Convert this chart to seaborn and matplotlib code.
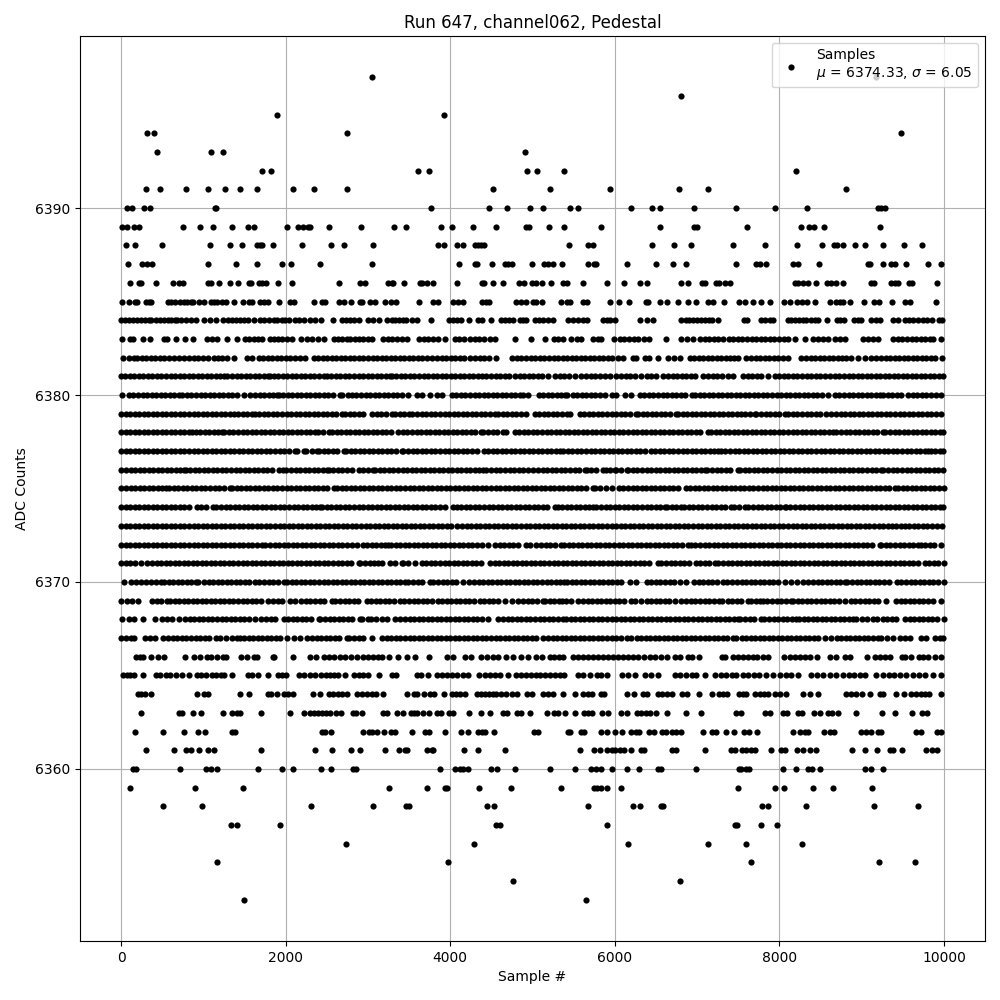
import pandas as pd
import matplotlib
matplotlib.use("Agg")
import matplotlib.pyplot as plt
import seaborn as sns

# Sample numbers, one list per ADC level
s6397 = [3046, 9179]
s6396 = [6810]
s6395 = [1890, 3927]
s6394 = [315, 404, 2739, 9483]
s6393 = [436, 1091, 1236, 4909]
s6392 = [1709, 1818, 3612, 3745, 4933, 5050, 5388, 8207]
s6391 = [303, 473, 788, 1054, 1260, 1442, 1648, 2085, 2339, 2751, 4521, 5210, 5947, 6786, 7138, 8815]
s6390 = [73, 133, 279, 351, 1135, 1150, 3769, 4472, 4690, 4969, 5133, 5457, 5554, 6202, 6457, 6551, 6964, 7474, 7948, 8336, 9200, 9232, 9280]
s6389 = [16, 77, 158, 222, 751, 957, 1115, 1345, 1539, 1612, 2012, 2145, 2206, 2266, 2299, 2521, 2921, 3321, 3466, 3890, 4024, 4278, 4557, 4925, 4953, 5194, 5388, 5838, 6543, 6968, 7000, 7612, 8268, 8365, 8426, 8547, 9228]
s6388 = [61, 170, 497, 1079, 1321, 1467, 1648, 1685, 1717, 1842, 2194, 2545, 2703, 3066, 3854, 3927, 4084, 4157, 4303, 4339, 4375, 4416, 5449, 5668, 5729, 6457, 6721, 6928, 7442, 7831, 8215, 8519, 8669, 8700, 8770, 8924, 9046, 9265, 9520, 9738]
s6387 = [85, 255, 315, 376, 1054, 1394, 1648, 1951, 2060, 2412, 3054, 4109, 4300, 4319, 4513, 4666, 4703, 4747, 4993, 5144, 5190, 5252, 5353, 5680, 5741, 5777, 6154, 6506, 6713, 6859, 7474, 7721, 7762, 7843, 8171, 8231, 8486, 9080, 9100, 9265, 9354, 9403, 9533, 9801, 9967]
s6386 = [109, 218, 246, 424, 630, 703, 751, 1054, 1087, 1188, 1321, 1418, 1551, 1584, 1672, 1713, 1765, 1903, 2073, 2642, 2897, 2969, 3248, 3289, 3309, 3442, 3632, 3656, 3713, 3794, 4084, 4391, 4416, 4521, 4642, 4836, 4893, 4993, 5048, 5110, 5230, 5368, 5413, 5619, 5911, 6117, 6312, 6385, 6810, 6895, 7065, 7094, 7235, 7272, 7337, 7397, 8187, 8232, 8288, 8345, 8449, 8580, 8632, 8693, 8778, 9110, 9150, 9354, 9403, 9443, 9576, 9616, 9920]
s6385 = [12, 97, 166, 190, 303, 339, 368, 570, 602, 655, 715, 764, 804, 845, 877, 950, 1006, 1087, 1127, 1160, 1224, 1273, 1370, 1479, 1551, 1592, 1685, 1733, 1782, 1923, 2048, 2097, 2339, 2440, 2481, 2642, 2703, 2788, 2897, 2925, 3030, 3091, 3212, 3285, 3345, 3624, 3794, 3854, 4036, 4097, 4157, 4387, 4432, 4476, 4804, 4864, 4925, 5005, 5038, 5110, 5340, 5413, 5453, 5615, 5656, 5947, 6049, 6178, 6373, 6405, 6551, 6636, 6770, 6895, 6992, 7138, 7195, 7332, 7507, 7588, 7681, 7774, 7883, 8053, 8134, 8215, 8276, 8341, 8438, 8612, 8693, 8734, 8775, 8863, 9033, 9155, 9216, 9374, 9524, 9585, 9908]
s6384 = [0, 48, 95, 150, 195, 245, 290, 340, 368, 420, 470, 520, 565, 610, 655, 683, 730, 790, 844, 905, 1006, 1075, 1147, 1240, 1295, 1349, 1402, 1445, 1491, 1543, 1620, 1685, 1733, 1794, 1854, 1900, 1950, 1995, 2036, 2109, 2157, 2218, 2291, 2351, 2428, 2569, 2683, 2731, 2784, 2835, 2885, 3006, 3066, 3139, 3236, 3289, 3329, 3375, 3420, 3462, 3531, 3592, 3769, 3987, 4030, 4076, 4133, 4230, 4339, 4387, 4497, 4622, 4670, 4715, 4763, 4852, 4890, 4925, 5028, 5080, 5130, 5190, 5251, 5433, 5494, 5555, 5610, 5656, 5858, 5900, 5939, 6008, 6312, 6397, 6466, 6810, 6860, 6905, 6950, 7000, 7050, 7095, 7140, 7175, 7255, 7571, 7612, 7782, 7830, 7880, 7924, 8106, 8147, 8187, 8240, 8285, 8329, 8390, 8430, 8470, 8584, 8705, 8734, 8782, 8908, 8950, 8997, 9119, 9170, 9220, 9379, 9443, 9524, 9575, 9625, 9686, 9746, 9799, 9856, 9937, 9977]
s6383 = [16, 109, 150, 271, 347, 521, 562, 671, 776, 877, 1046, 1107, 1168, 1281, 1410, 1511, 1560, 1610, 1665, 1713, 1806, 1855, 1910, 1960, 2020, 2077, 2186, 2258, 2319, 2388, 2460, 2582, 2635, 2690, 2743, 2784, 2840, 2890, 2945, 3000, 3046, 3188, 3240, 3295, 3350, 3410, 3470, 3624, 3680, 3735, 3790, 3850, 3935, 4056, 4110, 4170, 4238, 4299, 4355, 4410, 4480, 4541, 4791, 4985, 5155, 5256, 5315, 5376, 5473, 5535, 5595, 5737, 5790, 5838, 5984, 6061, 6115, 6175, 6230, 6284, 6356, 6413, 6628, 6810, 6880, 6952, 7033, 7090, 7150, 7205, 7260, 7316, 7385, 7440, 7495, 7550, 7610, 7665, 7720, 7775, 7830, 7885, 7940, 8000, 8055, 8110, 8187, 8308, 8410, 8470, 8530, 8592, 8681, 8740, 8795, 9017, 9080, 9140, 9200, 9382, 9440, 9495, 9550, 9610, 9665, 9720, 9775, 9825, 9868, 9969]
s6382 = [28, 90, 158, 198, 250, 305, 360, 415, 470, 525, 580, 640, 700, 764, 824, 880, 935, 990, 1055, 1127, 1176, 1230, 1281, 1370, 1531, 1592, 1673, 1725, 1780, 1835, 1890, 1945, 2000, 2055, 2110, 2175, 2238, 2339, 2395, 2450, 2505, 2560, 2615, 2670, 2725, 2780, 2835, 2890, 2945, 3000, 3055, 3110, 3165, 3220, 3275, 3330, 3385, 3440, 3495, 3550, 3605, 3660, 3720, 3775, 3834, 3895, 3950, 4005, 4060, 4115, 4170, 4235, 4299, 4359, 4415, 4472, 4553, 4755, 4810, 4865, 4920, 4985, 5030, 5089, 5145, 5200, 5255, 5310, 5365, 5420, 5475, 5530, 5585, 5640, 5695, 5750, 5805, 5860, 5915, 5970, 6035, 6101, 6223, 6263, 6365, 6413, 6527, 6648, 6720, 6790, 6911, 6965, 7020, 7075, 7130, 7185, 7240, 7295, 7350, 7405, 7450, 7499, 7600, 7655, 7710, 7765, 7820, 7875, 7930, 7985, 8040, 8106, 8268, 8325, 8380, 8435, 8490, 8545, 8600, 8655, 8710, 8765, 8815, 8875, 8957, 9040, 9119, 9179, 9235, 9290, 9345, 9400, 9455, 9510, 9565, 9620, 9675, 9730, 9785, 9840, 9888, 9977]
s6381 = [0, 50, 105, 160, 215, 270, 325, 380, 435, 490, 545, 600, 655, 710, 765, 820, 875, 930, 985, 1040, 1095, 1150, 1205, 1250, 1290, 1349, 1405, 1460, 1515, 1570, 1625, 1680, 1735, 1780, 1814, 1854, 1910, 1965, 2020, 2075, 2130, 2185, 2240, 2295, 2350, 2405, 2460, 2501, 2555, 2610, 2665, 2720, 2775, 2830, 2885, 2940, 2995, 3050, 3105, 3160, 3215, 3268, 3289, 3345, 3400, 3455, 3510, 3565, 3620, 3675, 3730, 3785, 3840, 3895, 3950, 4005, 4060, 4115, 4170, 4225, 4280, 4335, 4380, 4440, 4495, 4550, 4605, 4660, 4715, 4783, 4844, 4900, 4955, 5010, 5065, 5120, 5190, 5271, 5330, 5385, 5440, 5514, 5595, 5650, 5705, 5757, 5818, 5875, 5939, 6020, 6075, 6130, 6185, 6240, 6324, 6385, 6440, 6495, 6587, 6648, 6705, 6760, 6815, 6870, 6925, 6980, 7073, 7134, 7190, 7245, 7300, 7377, 7438, 7559, 7615, 7670, 7725, 7780, 7863, 7944, 8000, 8055, 8110, 8165, 8220, 8275, 8330, 8385, 8440, 8495, 8550, 8612, 8673, 8730, 8785, 8840, 8895, 8950, 9005, 9060, 9115, 9170, 9225, 9280, 9335, 9390, 9445, 9500, 9555, 9610, 9665, 9720, 9775, 9830, 9885, 9940, 9990]
s6380 = [8, 97, 150, 205, 260, 315, 370, 425, 480, 535, 590, 645, 703, 743, 800, 855, 910, 965, 1020, 1075, 1130, 1185, 1240, 1295, 1350, 1405, 1491, 1572, 1630, 1685, 1740, 1795, 1850, 1895, 1915, 1970, 2025, 2080, 2135, 2190, 2245, 2300, 2355, 2410, 2465, 2520, 2575, 2662, 2683, 2763, 2804, 2860, 2915, 2970, 3025, 3080, 3135, 3190, 3245, 3300, 3355, 3410, 3491, 3600, 3660, 3753, 3834, 3895, 4016, 4075, 4130, 4185, 4240, 4295, 4350, 4405, 4460, 4515, 4570, 4625, 4680, 4735, 4790, 4845, 4890, 4945, 5078, 5130, 5185, 5240, 5295, 5350, 5392, 5413, 5494, 5546, 5600, 5655, 5710, 5765, 5820, 5875, 5960, 6020, 6121, 6202, 6304, 6360, 6415, 6470, 6525, 6580, 6635, 6690, 6745, 6800, 6855, 6932, 6972, 7030, 7085, 7140, 7195, 7250, 7305, 7360, 7415, 7470, 7525, 7580, 7635, 7690, 7745, 7800, 7855, 7910, 7965, 8020, 8075, 8130, 8185, 8240, 8295, 8350, 8405, 8460, 8515, 8592, 8673, 8730, 8785, 8840, 8895, 8950, 9005, 9060, 9115, 9170, 9220, 9260, 9315, 9370, 9425, 9483, 9564, 9620, 9675, 9730, 9785, 9840, 9908, 9969]
s6379 = [0, 55, 110, 165, 220, 275, 330, 385, 440, 495, 550, 605, 660, 715, 770, 825, 880, 935, 990, 1045, 1100, 1155, 1210, 1265, 1320, 1370, 1418, 1475, 1530, 1585, 1632, 1681, 1735, 1790, 1845, 1900, 1955, 2010, 2065, 2120, 2175, 2230, 2285, 2340, 2395, 2450, 2505, 2560, 2615, 2683, 2723, 2780, 2835, 2890, 2945, 3046, 3105, 3160, 3215, 3289, 3329, 3385, 3440, 3495, 3531, 3600, 3655, 3710, 3765, 3820, 3875, 3930, 3985, 4040, 4095, 4150, 4205, 4260, 4315, 4370, 4425, 4480, 4541, 4582, 4640, 4695, 4750, 4805, 4860, 4925, 5030, 5079, 5135, 5190, 5245, 5300, 5355, 5413, 5453, 5575, 5630, 5685, 5740, 5795, 5850, 5905, 5960, 6015, 6070, 6125, 6180, 6263, 6284, 6340, 6395, 6450, 6505, 6560, 6615, 6670, 6749, 6770, 6825, 6880, 6935, 6990, 7045, 7100, 7155, 7210, 7265, 7320, 7375, 7430, 7485, 7539, 7579, 7640, 7700, 7721, 7780, 7835, 7890, 7945, 8000, 8066, 8106, 8165, 8220, 8275, 8330, 8385, 8440, 8495, 8572, 8632, 8690, 8745, 8800, 8855, 8910, 8965, 9020, 9075, 9130, 9185, 9240, 9295, 9350, 9405, 9460, 9515, 9570, 9625, 9680, 9735, 9790, 9845, 9900, 9969]
s6378 = [0, 55, 110, 165, 220, 275, 330, 385, 440, 495, 550, 605, 660, 715, 770, 820, 865, 905, 960, 1015, 1070, 1125, 1180, 1228, 1256, 1310, 1365, 1420, 1475, 1530, 1585, 1640, 1695, 1750, 1805, 1860, 1915, 1970, 2025, 2080, 2135, 2190, 2245, 2300, 2359, 2388, 2450, 2521, 2561, 2620, 2675, 2730, 2785, 2840, 2895, 2950, 3005, 3060, 3115, 3170, 3225, 3280, 3369, 3422, 3480, 3535, 3590, 3645, 3700, 3755, 3810, 3865, 3920, 3975, 4030, 4085, 4140, 4195, 4250, 4305, 4379, 4400, 4460, 4515, 4570, 4642, 4682, 4783, 4840, 4895, 4950, 5005, 5060, 5115, 5170, 5225, 5280, 5335, 5390, 5445, 5500, 5555, 5610, 5665, 5720, 5775, 5830, 5885, 5940, 5995, 6050, 6105, 6160, 6215, 6270, 6325, 6380, 6435, 6490, 6545, 6600, 6655, 6710, 6765, 6820, 6875, 6930, 6985, 7040, 7134, 7166, 7225, 7280, 7335, 7390, 7445, 7500, 7555, 7610, 7665, 7720, 7775, 7830, 7885, 7940, 7995, 8050, 8105, 8160, 8215, 8270, 8325, 8380, 8435, 8490, 8545, 8600, 8653, 8693, 8750, 8805, 8860, 8915, 8970, 9025, 9080, 9135, 9190, 9260, 9289, 9345, 9400, 9455, 9510, 9565, 9620, 9675, 9730, 9785, 9840, 9895, 9950, 9990]
s6377 = [0, 55, 110, 165, 220, 275, 330, 385, 440, 495, 550, 605, 660, 715, 770, 825, 880, 935, 990, 1045, 1100, 1155, 1210, 1265, 1320, 1375, 1430, 1485, 1540, 1595, 1650, 1705, 1760, 1815, 1870, 1925, 1980, 2035, 2117, 2137, 2218, 2250, 2315, 2380, 2400, 2460, 2515, 2570, 2625, 2703, 2731, 2790, 2845, 2900, 2955, 3010, 3065, 3120, 3175, 3230, 3285, 3340, 3410, 3430, 3490, 3545, 3600, 3655, 3710, 3765, 3820, 3875, 3930, 3985, 4040, 4095, 4150, 4205, 4260, 4319, 4408, 4460, 4515, 4570, 4625, 4680, 4735, 4790, 4845, 4900, 4955, 5010, 5065, 5120, 5175, 5230, 5285, 5332, 5372, 5430, 5485, 5540, 5595, 5650, 5705, 5760, 5815, 5870, 5925, 5980, 6035, 6090, 6145, 6200, 6255, 6310, 6365, 6445, 6486, 6545, 6600, 6656, 6713, 6770, 6825, 6880, 6935, 6990, 7045, 7100, 7155, 7200, 7256, 7288, 7345, 7400, 7455, 7510, 7565, 7620, 7675, 7730, 7785, 7840, 7895, 7950, 8005, 8060, 8115, 8170, 8225, 8280, 8335, 8390, 8445, 8500, 8555, 8610, 8665, 8720, 8775, 8830, 8885, 8940, 8995, 9050, 9105, 9160, 9215, 9270, 9325, 9380, 9435, 9490, 9545, 9600, 9655, 9710, 9765, 9807, 9839, 9895, 9950, 9990]
s6376 = [4, 57, 115, 170, 225, 280, 335, 390, 445, 500, 555, 610, 665, 720, 764, 784, 840, 895, 950, 1005, 1060, 1115, 1170, 1225, 1280, 1335, 1390, 1445, 1500, 1555, 1610, 1665, 1720, 1775, 1830, 1915, 1963, 2008, 2065, 2120, 2175, 2230, 2285, 2340, 2395, 2450, 2501, 2521, 2580, 2635, 2690, 2745, 2800, 2885, 2945, 3000, 3058, 3087, 3145, 3200, 3255, 3310, 3365, 3420, 3475, 3530, 3585, 3640, 3695, 3750, 3805, 3860, 3915, 3970, 4025, 4080, 4135, 4190, 4245, 4300, 4355, 4400, 4440, 4500, 4555, 4610, 4665, 4720, 4775, 4830, 4885, 4950, 5011, 5070, 5125, 5180, 5235, 5290, 5345, 5400, 5455, 5510, 5565, 5635, 5656, 5715, 5770, 5858, 5887, 5945, 6000, 6020, 6080, 6142, 6162, 6220, 6275, 6330, 6385, 6440, 6495, 6550, 6605, 6660, 6715, 6770, 6825, 6880, 6935, 6990, 7045, 7094, 7126, 7185, 7240, 7295, 7350, 7405, 7499, 7519, 7580, 7635, 7690, 7745, 7800, 7855, 7910, 7965, 8020, 8075, 8130, 8185, 8240, 8295, 8350, 8405, 8460, 8515, 8570, 8625, 8680, 8735, 8790, 8845, 8900, 8955, 9010, 9065, 9120, 9175, 9240, 9265, 9325, 9380, 9435, 9490, 9545, 9600, 9655, 9710, 9765, 9820, 9875, 9930, 9990]
s6375 = [4, 60, 115, 170, 225, 280, 335, 390, 445, 500, 541, 582, 640, 695, 750, 805, 860, 915, 970, 1025, 1080, 1135, 1190, 1245, 1329, 1349, 1405, 1460, 1515, 1570, 1625, 1680, 1735, 1790, 1845, 1900, 1955, 2010, 2065, 2120, 2175, 2230, 2285, 2340, 2395, 2450, 2505, 2590, 2622, 2680, 2735, 2790, 2845, 2900, 2955, 3010, 3065, 3120, 3175, 3230, 3285, 3340, 3395, 3450, 3505, 3560, 3615, 3670, 3725, 3780, 3835, 3890, 3945, 4000, 4055, 4110, 4165, 4220, 4275, 4330, 4385, 4440, 4495, 4550, 4605, 4660, 4715, 4770, 4825, 4880, 4935, 4990, 5045, 5100, 5155, 5210, 5265, 5320, 5375, 5430, 5485, 5540, 5595, 5650, 5737, 5757, 5820, 5887, 5960, 6049, 6105, 6160, 6215, 6270, 6325, 6380, 6435, 6490, 6545, 6600, 6655, 6710, 6765, 6871, 6911, 6970, 7025, 7080, 7135, 7190, 7245, 7300, 7355, 7410, 7465, 7520, 7575, 7630, 7685, 7740, 7795, 7850, 7905, 7960, 8015, 8070, 8125, 8180, 8235, 8290, 8345, 8400, 8455, 8510, 8565, 8620, 8675, 8730, 8785, 8840, 8895, 8950, 9005, 9060, 9115, 9170, 9225, 9280, 9335, 9402, 9443, 9500, 9555, 9610, 9665, 9720, 9775, 9830, 9885, 9940, 9999]
s6374 = [0, 55, 110, 165, 220, 275, 330, 385, 440, 495, 550, 605, 660, 715, 770, 825, 917, 974, 1030, 1119, 1159, 1215, 1270, 1325, 1380, 1435, 1490, 1545, 1600, 1655, 1710, 1765, 1820, 1875, 1930, 1985, 2040, 2095, 2150, 2205, 2260, 2315, 2370, 2420, 2440, 2500, 2555, 2610, 2665, 2720, 2775, 2830, 2885, 2940, 2995, 3050, 3105, 3160, 3215, 3270, 3325, 3380, 3435, 3490, 3545, 3600, 3655, 3710, 3765, 3820, 3875, 3930, 4028, 4076, 4135, 4190, 4245, 4300, 4355, 4410, 4465, 4520, 4575, 4630, 4685, 4740, 4795, 4850, 4905, 4960, 5015, 5070, 5125, 5180, 5271, 5304, 5360, 5415, 5470, 5525, 5580, 5635, 5690, 5737, 5777, 5835, 5890, 5945, 6000, 6055, 6110, 6165, 6220, 6275, 6330, 6385, 6440, 6495, 6550, 6607, 6632, 6690, 6745, 6802, 6842, 6900, 6955, 7010, 7065, 7120, 7175, 7230, 7285, 7340, 7418, 7446, 7510, 7580, 7620, 7680, 7735, 7790, 7845, 7900, 7955, 8010, 8066, 8078, 8135, 8190, 8245, 8300, 8355, 8410, 8465, 8520, 8575, 8630, 8685, 8740, 8795, 8850, 8905, 8960, 9015, 9070, 9125, 9180, 9235, 9290, 9345, 9400, 9455, 9510, 9565, 9620, 9675, 9730, 9785, 9840, 9895, 9949, 9990]
s6373 = [0, 55, 110, 165, 220, 275, 330, 385, 440, 495, 550, 605, 660, 715, 770, 825, 880, 935, 990, 1045, 1100, 1155, 1210, 1265, 1320, 1375, 1430, 1485, 1540, 1595, 1650, 1705, 1760, 1815, 1870, 1925, 1980, 2035, 2090, 2145, 2200, 2255, 2310, 2365, 2420, 2475, 2530, 2585, 2640, 2695, 2750, 2805, 2860, 2915, 2970, 3025, 3080, 3135, 3190, 3245, 3300, 3355, 3410, 3465, 3520, 3575, 3630, 3685, 3740, 3795, 3850, 3905, 3960, 4015, 4076, 4137, 4198, 4255, 4310, 4365, 4420, 4475, 4530, 4585, 4640, 4695, 4750, 4805, 4860, 4915, 4970, 5025, 5080, 5135, 5190, 5245, 5300, 5355, 5410, 5465, 5520, 5575, 5630, 5685, 5740, 5795, 5850, 5905, 5960, 6015, 6070, 6125, 6180, 6235, 6290, 6345, 6400, 6455, 6510, 6565, 6620, 6675, 6730, 6785, 6840, 6895, 6950, 7005, 7060, 7115, 7170, 7225, 7280, 7335, 7390, 7445, 7500, 7555, 7610, 7665, 7720, 7775, 7830, 7885, 7940, 7995, 8050, 8105, 8160, 8215, 8270, 8325, 8380, 8435, 8490, 8545, 8600, 8655, 8710, 8765, 8820, 8875, 8930, 8985, 9040, 9095, 9150, 9205, 9260, 9315, 9370, 9422, 9476, 9524, 9580, 9635, 9690, 9745, 9800, 9855, 9910, 9982]
s6372 = [0, 55, 110, 165, 220, 275, 330, 385, 440, 495, 550, 605, 660, 715, 770, 825, 880, 935, 990, 1045, 1100, 1155, 1210, 1265, 1320, 1375, 1430, 1485, 1540, 1595, 1650, 1713, 1753, 1810, 1865, 1920, 1975, 2030, 2085, 2140, 2195, 2250, 2305, 2360, 2415, 2470, 2525, 2580, 2635, 2690, 2745, 2800, 2864, 2937, 2990, 3045, 3100, 3155, 3210, 3248, 3276, 3335, 3390, 3445, 3500, 3555, 3610, 3665, 3720, 3775, 3830, 3885, 3940, 3995, 4050, 4105, 4160, 4215, 4270, 4325, 4380, 4460, 4541, 4600, 4655, 4710, 4765, 4820, 4917, 4965, 5038, 5101, 5160, 5215, 5270, 5344, 5385, 5440, 5495, 5550, 5605, 5660, 5715, 5770, 5825, 5880, 5935, 5990, 6045, 6100, 6155, 6210, 6265, 6320, 6375, 6430, 6485, 6540, 6595, 6650, 6705, 6760, 6815, 6891, 6923, 6980, 7035, 7090, 7145, 7200, 7255, 7310, 7365, 7420, 7475, 7530, 7585, 7640, 7695, 7750, 7805, 7860, 7915, 7970, 8025, 8080, 8135, 8190, 8245, 8300, 8355, 8410, 8465, 8520, 8575, 8630, 8685, 8740, 8795, 8850, 8905, 8960, 9015, 9070, 9125, 9220, 9240, 9295, 9350, 9405, 9460, 9515, 9570, 9625, 9680, 9726, 9767, 9825, 9880, 9969]
s6371 = [0, 55, 110, 165, 246, 319, 375, 430, 485, 540, 595, 650, 705, 760, 815, 870, 925, 980, 1035, 1090, 1145, 1200, 1255, 1310, 1365, 1420, 1475, 1530, 1585, 1640, 1695, 1750, 1805, 1860, 1915, 1970, 2025, 2080, 2135, 2190, 2245, 2300, 2355, 2410, 2465, 2520, 2575, 2630, 2685, 2740, 2795, 2885, 2905, 2965, 3020, 3075, 3127, 3167, 3268, 3330, 3410, 3430, 3490, 3571, 3652, 3710, 3765, 3820, 3875, 3930, 3985, 4040, 4095, 4150, 4205, 4260, 4315, 4379, 4480, 4540, 4595, 4650, 4705, 4760, 4815, 4870, 4925, 4980, 5035, 5090, 5145, 5200, 5255, 5310, 5365, 5420, 5475, 5530, 5585, 5640, 5695, 5750, 5805, 5860, 5915, 5970, 6025, 6080, 6135, 6190, 6245, 6300, 6355, 6410, 6527, 6567, 6625, 6680, 6735, 6790, 6845, 6900, 6992, 7033, 7090, 7145, 7223, 7256, 7315, 7370, 7425, 7480, 7535, 7590, 7645, 7700, 7755, 7810, 7865, 7920, 7975, 8030, 8085, 8140, 8195, 8250, 8305, 8360, 8415, 8470, 8525, 8580, 8635, 8690, 8745, 8800, 8855, 8910, 8965, 9020, 9075, 9130, 9185, 9240, 9295, 9350, 9405, 9460, 9515, 9570, 9625, 9680, 9767, 9815, 9875, 9930, 9999]
s6370 = [36, 117, 178, 238, 307, 365, 420, 481, 521, 580, 635, 690, 745, 800, 855, 905, 933, 1006, 1065, 1120, 1175, 1230, 1285, 1340, 1395, 1450, 1505, 1560, 1632, 1681, 1740, 1795, 1850, 1905, 1984, 2016, 2075, 2130, 2185, 2240, 2295, 2350, 2405, 2460, 2515, 2570, 2625, 2680, 2735, 2790, 2845, 2900, 2955, 3010, 3065, 3120, 3175, 3230, 3285, 3340, 3395, 3450, 3490, 3550, 3605, 3660, 3753, 3794, 3855, 3910, 3965, 4020, 4075, 4157, 4230, 4290, 4345, 4400, 4455, 4510, 4565, 4620, 4675, 4730, 4785, 4840, 4895, 4950, 5005, 5060, 5115, 5170, 5225, 5280, 5335, 5384, 5413, 5475, 5530, 5585, 5640, 5695, 5750, 5805, 5860, 5915, 5970, 6025, 6080, 6182, 6263, 6385, 6445, 6500, 6555, 6610, 6665, 6720, 6790, 6871, 6960, 7020, 7075, 7130, 7185, 7240, 7316, 7369, 7430, 7485, 7540, 7595, 7650, 7705, 7760, 7815, 7870, 7925, 7980, 8066, 8147, 8210, 8288, 8349, 8410, 8465, 8520, 8575, 8630, 8685, 8740, 8795, 8827, 8885, 8940, 8995, 9050, 9105, 9160, 9215, 9272, 9329, 9434, 9483, 9540, 9595, 9650, 9705, 9760, 9815, 9870, 9925, 9999]
s6369 = [4, 70, 137, 206, 376, 430, 490, 562, 594, 650, 705, 760, 815, 870, 925, 980, 1035, 1090, 1145, 1200, 1255, 1310, 1365, 1420, 1475, 1530, 1585, 1640, 1695, 1782, 1846, 1905, 1960, 2048, 2109, 2186, 2245, 2300, 2355, 2420, 2469, 2561, 2602, 2660, 2715, 2770, 2825, 2880, 2985, 3034, 3095, 3150, 3205, 3260, 3315, 3390, 3442, 3500, 3555, 3610, 3665, 3720, 3775, 3854, 3895, 3955, 4010, 4065, 4120, 4175, 4230, 4285, 4359, 4408, 4465, 4520, 4575, 4662, 4747, 4824, 4885, 4940, 4995, 5050, 5130, 5150, 5210, 5265, 5320, 5352, 5410, 5473, 5554, 5615, 5670, 5725, 5780, 5835, 5890, 5945, 6000, 6055, 6110, 6202, 6251, 6324, 6385, 6440, 6495, 6550, 6605, 6660, 6729, 6810, 6870, 6925, 6980, 7035, 7090, 7145, 7200, 7264, 7308, 7370, 7425, 7480, 7535, 7620, 7652, 7710, 7765, 7802, 7855, 7915, 7970, 8025, 8080, 8147, 8166, 8225, 8280, 8335, 8390, 8445, 8500, 8555, 8610, 8665, 8720, 8802, 8867, 8925, 8980, 9035, 9090, 9145, 9200, 9292, 9414, 9475, 9530, 9585, 9640, 9695, 9750, 9805, 9868, 9961]
s6368 = [16, 97, 158, 267, 408, 501, 554, 615, 703, 776, 832, 890, 945, 1000, 1055, 1110, 1165, 1220, 1275, 1330, 1385, 1440, 1495, 1550, 1632, 1705, 1765, 1820, 1875, 1975, 2024, 2085, 2140, 2195, 2250, 2305, 2400, 2420, 2480, 2535, 2590, 2645, 2700, 2755, 2810, 2897, 2925, 3006, 3034, 3095, 3167, 3228, 3329, 3390, 3450, 3505, 3560, 3615, 3670, 3725, 3780, 3835, 3890, 3945, 4000, 4055, 4110, 4165, 4220, 4275, 4330, 4385, 4460, 4582, 4645, 4700, 4755, 4810, 4865, 4920, 4975, 5030, 5085, 5140, 5195, 5250, 5305, 5372, 5405, 5465, 5520, 5575, 5630, 5685, 5740, 5795, 5850, 5905, 5960, 6015, 6070, 6125, 6180, 6235, 6290, 6345, 6400, 6455, 6510, 6565, 6620, 6675, 6730, 6785, 6840, 6895, 6950, 7005, 7060, 7115, 7170, 7225, 7280, 7335, 7390, 7445, 7499, 7519, 7580, 7640, 7695, 7774, 7814, 7875, 7930, 7985, 8040, 8095, 8150, 8207, 8236, 8295, 8350, 8405, 8460, 8515, 8570, 8625, 8680, 8735, 8790, 8845, 8896, 8936, 9000, 9060, 9139, 9192, 9255, 9310, 9365, 9422, 9524, 9585, 9640, 9695, 9750, 9805, 9860, 9915, 9999]
s6367 = [0, 60, 117, 158, 287, 345, 408, 509, 570, 625, 680, 735, 790, 845, 905, 957, 1015, 1070, 1147, 1200, 1270, 1350, 1410, 1450, 1490, 1550, 1605, 1660, 1715, 1770, 1825, 1880, 1935, 2016, 2097, 2170, 2258, 2315, 2375, 2430, 2485, 2540, 2595, 2650, 2743, 2772, 2835, 2890, 2945, 3046, 3167, 3230, 3285, 3340, 3395, 3450, 3505, 3560, 3615, 3670, 3725, 3780, 3835, 3890, 3945, 4000, 4055, 4110, 4165, 4220, 4275, 4330, 4385, 4440, 4495, 4550, 4605, 4660, 4715, 4770, 4825, 4880, 4935, 4990, 5046, 5130, 5182, 5245, 5300, 5355, 5410, 5465, 5520, 5575, 5630, 5685, 5740, 5795, 5850, 5905, 5960, 6015, 6070, 6142, 6202, 6265, 6320, 6375, 6430, 6485, 6540, 6595, 6650, 6705, 6760, 6815, 6870, 6925, 6980, 7035, 7090, 7145, 7200, 7255, 7310, 7365, 7438, 7478, 7540, 7595, 7650, 7705, 7760, 7815, 7870, 7925, 7980, 8035, 8090, 8145, 8200, 8255, 8310, 8365, 8420, 8475, 8551, 8632, 8695, 8750, 8805, 8860, 8915, 8970, 9025, 9080, 9135, 9200, 9240, 9310, 9380, 9463, 9525, 9585, 9726, 9786, 9888, 9950, 9990]
s6366 = [178, 230, 271, 364, 448, 521, 776, 885, 958, 1046, 1095, 1160, 1240, 1273, 1454, 1527, 1612, 1652, 1842, 1862, 2085, 2291, 2371, 2460, 2521, 2582, 2654, 2723, 2792, 2864, 2937, 3006, 3058, 3127, 3167, 3256, 3361, 3478, 3571, 3745, 3963, 4036, 4177, 4258, 4379, 4448, 4521, 4582, 4682, 4763, 4856, 4945, 5036, 5109, 5210, 5263, 5319, 5372, 5494, 5555, 5615, 5676, 5737, 5798, 5858, 5919, 5980, 6040, 6101, 6162, 6223, 6283, 6352, 6433, 6494, 6567, 6636, 6729, 6790, 6891, 6940, 7017, 7304, 7336, 7438, 7498, 7559, 7620, 7681, 7733, 7802, 7863, 8053, 8134, 8187, 8248, 8308, 8369, 8462, 8612, 8693, 8803, 8855, 9066, 9167, 9220, 9280, 9341, 9491, 9532, 9604, 9694, 9746, 9807, 9888, 9969]
s6365 = [24, 69, 109, 162, 267, 420, 473, 541, 594, 663, 743, 824, 925, 974, 1026, 1107, 1159, 1208, 1248, 1345, 1543, 1596, 1660, 1782, 1903, 1955, 2008, 2157, 2218, 2299, 2359, 2428, 2493, 2541, 2590, 2630, 2715, 2832, 2885, 2945, 3006, 3135, 3293, 3341, 3592, 3640, 3733, 3834, 3895, 3955, 4016, 4076, 4149, 4218, 4351, 4420, 4480, 4541, 4602, 4703, 4804, 4864, 4925, 4985, 5046, 5089, 5150, 5211, 5272, 5332, 5385, 5555, 5615, 5696, 5785, 5838, 5899, 6093, 6162, 6243, 6365, 6437, 6527, 6729, 6790, 6871, 6932, 6992, 7102, 7215, 7288, 7357, 7426, 7478, 7559, 7620, 7693, 7750, 7843, 7924, 8005, 8086, 8147, 8228, 8381, 8462, 8531, 8612, 8693, 8774, 8843, 8908, 8977, 9046, 9179, 9260, 9329, 9394, 9463, 9544, 9625, 9694, 9767, 9868, 9969]
s6364 = [206, 246, 287, 364, 921, 1006, 1054, 1442, 1551, 1782, 1822, 1895, 1984, 2024, 2089, 2327, 2420, 2521, 2569, 2630, 2683, 2743, 2872, 2925, 2986, 3046, 3099, 3188, 3478, 3559, 3600, 3684, 3753, 3802, 3927, 4016, 4068, 4117, 4185, 4319, 4371, 4420, 4472, 4521, 4561, 4622, 4682, 4751, 4816, 4937, 4997, 5130, 5190, 5251, 5376, 5510, 5615, 5668, 5725, 5838, 5870, 6154, 6235, 6344, 6397, 6527, 6579, 6640, 6700, 6818, 6883, 7017, 7187, 7264, 7316, 7369, 7507, 7559, 7600, 7709, 7762, 7814, 7863, 7952, 8005, 8086, 8292, 8369, 8474, 8807, 8867, 8936, 9009, 9106, 9220, 9260, 9422, 9511, 9604, 9665, 9718, 9767, 9823, 9969]
s6363 = [242, 703, 743, 873, 970, 1232, 1349, 1410, 1450, 1697, 2048, 2218, 2299, 2339, 2388, 2436, 2485, 2533, 2610, 2670, 2812, 2860, 2925, 3188, 3236, 3357, 3430, 3519, 3559, 3600, 3672, 3745, 3834, 3882, 3987, 4036, 4230, 4375, 4480, 4642, 4694, 4811, 4864, 4969, 5170, 5263, 5312, 5389, 5522, 5627, 5676, 5725, 5846, 5919, 6081, 6142, 6275, 6324, 6373, 6425, 6506, 6640, 6871, 7053, 7478, 7531, 7822, 7891, 8045, 8094, 8228, 8276, 8422, 8491, 8592, 8641, 8718, 8936, 9252, 9410, 9617, 9738, 9799]
s6362 = [170, 509, 764, 933, 1018, 1353, 1378, 2436, 2476, 2549, 2945, 3018, 3046, 3115, 3200, 3285, 3329, 3539, 3697, 3745, 3939, 4133, 4218, 4339, 4387, 4424, 4533, 5018, 5065, 5437, 5461, 5583, 5623, 5826, 5899, 6008, 6093, 6202, 6263, 6292, 6421, 6478, 6579, 6616, 6689, 6749, 6810, 7077, 7183, 7235, 7357, 7454, 7571, 7636, 7733, 8171, 8247, 8308, 8349, 8547, 8612, 8669, 8997, 9058, 9119, 9200, 9232, 9665, 9726, 9920, 9969]
s6361 = [303, 642, 788, 848, 945, 1054, 1127, 1697, 2351, 2557, 2788, 2897, 3212, 3381, 3450, 3470, 3721, 3773, 3794, 4169, 4339, 4666, 5571, 5741, 5814, 5911, 5960, 6008, 6061, 6109, 6202, 6324, 6352, 6700, 6749, 7102, 7418, 7466, 7547, 7600, 7652, 7701, 7903, 8025, 8074, 8219, 8288, 8377, 8450, 8888, 9046, 9192, 9341, 9381, 9494, 9786, 9860, 9921]
s6360 = [141, 186, 715, 1030, 1091, 1164, 1660, 1951, 2085, 2424, 2545, 2812, 2860, 3878, 4060, 4121, 4157, 4218, 4497, 4569, 4787, 5209, 5513, 5708, 5777, 5830, 5960, 6154, 6288, 6527, 6563, 6992, 7515, 7539, 7600, 7628, 8045, 8203, 8349, 8397, 8494, 9040, 9110, 9265]
s6359 = [109, 897, 1479, 3260, 3721, 3935, 3959, 4351, 4739, 5340, 5753, 5789, 5838, 5899, 6081, 7503, 7948, 8057, 8405, 8648, 9131]
s6358 = [509, 982, 2303, 3066, 3462, 3495, 4448, 4533, 5680, 6227, 6300, 6567, 6583, 7794, 7867, 8324, 9155, 9690]
s6357 = [1333, 1410, 1927, 4553, 4602, 5911, 7466, 7482, 7782, 7976]
s6356 = [2727, 4290, 6166, 7138, 7600, 8280]
s6355 = [1164, 3975, 7660, 9216, 9653]
s6354 = [4763, 6790]
s6353 = [1491, 5644]

levels = [6397, 6396, 6395, 6394, 6393, 6392, 6391, 6390, 6389, 6388, 6387, 6386, 6385, 6384, 6383, 6382, 6381, 6380, 6379, 6378, 6377, 6376, 6375, 6374, 6373, 6372, 6371, 6370, 6369, 6368, 6367, 6366, 6365, 6364, 6363, 6362, 6361, 6360, 6359, 6358, 6357, 6356, 6355, 6354, 6353]
rows = [s6397, s6396, s6395, s6394, s6393, s6392, s6391, s6390, s6389, s6388, s6387, s6386, s6385, s6384, s6383, s6382, s6381, s6380, s6379, s6378, s6377, s6376, s6375, s6374, s6373, s6372, s6371, s6370, s6369, s6368, s6367, s6366, s6365, s6364, s6363, s6362, s6361, s6360, s6359, s6358, s6357, s6356, s6355, s6354, s6353]

# Long table for seaborn
df = pd.DataFrame({
    'sample': [x for row in rows for x in row],
    'adc': [lvl for lvl, row in zip(levels, rows) for _ in row],
})

fig, ax = plt.subplots(figsize=(10, 10), dpi=100)

sns.scatterplot(
    data=df,
    x='sample',
    y='adc',
    color='black',
    s=20,
    linewidth=0,
    zorder=2,
    label='Samples\n$\\mu$ = 6374.33, $\\sigma$ = 6.05',
    ax=ax
)

ax.set_title('Run 647, channel062, Pedestal')
ax.set_xlabel('Sample #')
ax.set_ylabel('ADC Counts')
ax.grid(True)
ax.legend(loc='upper right')

fig.subplots_adjust(left=0.080, right=0.985, top=0.964, bottom=0.059)
plt.savefig('out.png', dpi=100)
